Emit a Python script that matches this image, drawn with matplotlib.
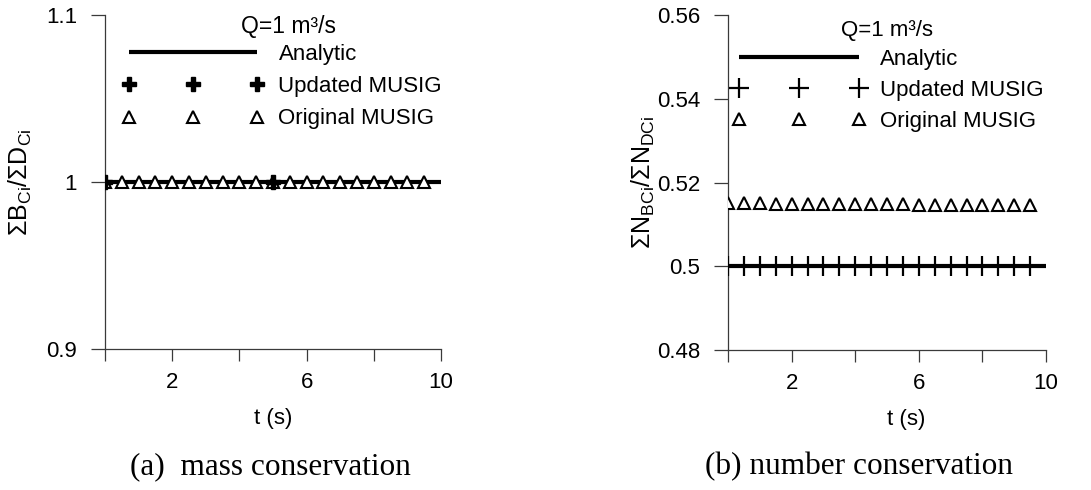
import matplotlib
matplotlib.use("Agg")
import matplotlib.pyplot as plt
import numpy as np

plt.rcParams['font.family'] = ['Liberation Sans', 'DejaVu Sans']
plt.rcParams['mathtext.fontset'] = 'custom'
plt.rcParams['mathtext.rm'] = 'Liberation Sans'
plt.rcParams['mathtext.it'] = 'Liberation Sans:italic'

# (a) mass conservation
t_analytic = [0, 10]
mass_analytic = [1.0, 1.0]
t_mass_updated = [0, 5]
mass_updated = [1.0, 1.0]
t_mass_original = [0, 0.5, 1, 1.5, 2, 2.5, 3, 3.5, 4, 4.5,
                   5, 5.5, 6, 6.5, 7, 7.5, 8, 8.5, 9, 9.5]
mass_original = [1.0] * 20

# (b) number conservation
number_analytic = [0.5, 0.5]
t_num = [0, 0.5, 1, 1.5, 2, 2.5, 3, 3.5, 4, 4.5,
         5, 5.5, 6, 6.5, 7, 7.5, 8, 8.5, 9, 9.5]
number_updated = [0.5] * 20
number_original = [0.5150, 0.5150, 0.5150, 0.5149, 0.5149, 0.5149, 0.5149,
                   0.5148, 0.5148, 0.5148, 0.5148, 0.5148, 0.5147, 0.5147,
                   0.5147, 0.5147, 0.5147, 0.5146, 0.5146, 0.5146]

xticks = [0, 2, 4, 6, 8, 10]
xticklabels = ['', '2', '', '6', '', '10']

FS = 16
AX_COLOR = '#3a3a3a'
FLOW_LABEL = 'Q=1 m³/s'

fig = plt.figure(figsize=(10.91, 4.90), dpi=100)
ax1 = fig.add_axes([105 / 1091, 1 - 349 / 490, 336 / 1091, 334 / 490])
ax2 = fig.add_axes([728 / 1091, 1 - 350 / 490, 318 / 1091, 335 / 490])


def style_axes(ax, ylim, yticks, ylabel):
    for side in ('top', 'right'):
        ax.spines[side].set_visible(False)
    for side in ('left', 'bottom'):
        ax.spines[side].set_linewidth(0.9)
        ax.spines[side].set_color(AX_COLOR)
    ax.set_xlim(0, 10)
    ax.set_ylim(*ylim)
    ax.set_xticks(xticks)
    ax.set_xticklabels(xticklabels)
    ax.set_yticks(yticks)
    ax.set_yticklabels(['%g' % v for v in yticks])
    ax.tick_params(axis='x', direction='out', length=8.6, width=0.9,
                   color=AX_COLOR, pad=8, labelsize=FS)
    ax.tick_params(axis='y', direction='out', length=10, width=0.9,
                   color=AX_COLOR, pad=10, labelsize=FS)
    ax.set_xlabel('t (s)', fontsize=FS)
    ax.set_ylabel(ylabel, fontsize=18)


# mass conservation panel
ax1.plot(t_analytic, mass_analytic, color='black', lw=3, label='Analytic',
         solid_capstyle='butt', zorder=2)
ax1.plot(t_mass_updated, mass_updated, ls='none', marker='P', ms=10,
         color='black', mec='black', label='Updated MUSIG', zorder=4)
ax1.plot(t_mass_original, mass_original, ls='none', marker='^', ms=8,
         mfc='white', mec='black', mew=1.5, label='Original MUSIG', zorder=3)
style_axes(ax1, (0.9, 1.1), [0.9, 1.0, 1.1],
           r'$\Sigma\mathrm{B_{Ci}}/\Sigma\mathrm{D_{Ci}}$')
ax1.xaxis.set_label_coords(0.5, -0.177)
ax1.yaxis.set_label_coords(-0.21, 0.5)
ax1.legend(loc='upper right', bbox_to_anchor=(1.036, 0.946),
           frameon=False, numpoints=3, handlelength=6.35,
           handletextpad=0.68, labelspacing=0.5, borderpad=0, fontsize=FS)
ax1.text(0.545, 0.967, FLOW_LABEL, transform=ax1.transAxes,
         fontsize=16.5, ha='center', va='center')

# number conservation panel
ax2.plot(t_analytic, number_analytic, color='black', lw=3, label='Analytic',
         solid_capstyle='butt', zorder=2)
ax2.plot(t_num, number_updated, ls='none', marker='+', ms=14, mew=1.6,
         color='black', label='Updated MUSIG', zorder=4)
ax2.plot(t_num, number_original, ls='none', marker='^', ms=8,
         mfc='white', mec='black', mew=1.5, label='Original MUSIG', zorder=3)
style_axes(ax2, (0.48, 0.56), [0.48, 0.50, 0.52, 0.54, 0.56],
           r'$\Sigma\mathrm{N_{BCi}}/\Sigma\mathrm{N_{DCi}}$')
ax2.xaxis.set_label_coords(0.56, -0.177)
ax2.yaxis.set_label_coords(-0.223, 0.5)
ax2.legend(loc='upper right', bbox_to_anchor=(1.028, 0.931),
           frameon=False, numpoints=3, handlelength=6.0,
           handletextpad=0.65, labelspacing=0.45, borderpad=0, fontsize=FS)
ax2.text(0.50, 0.955, FLOW_LABEL, transform=ax2.transAxes,
         fontsize=16, ha='center', va='center')

fig.text(270 / 1091, 1 - 467 / 490, '(a)  mass conservation',
         family='Liberation Serif', fontsize=22.5, ha='center', va='center')
fig.text(859 / 1091, 1 - 467 / 490, '(b) number conservation',
         family='Liberation Serif', fontsize=22.5, ha='center', va='center')

fig.savefig('out.png', dpi=100)
